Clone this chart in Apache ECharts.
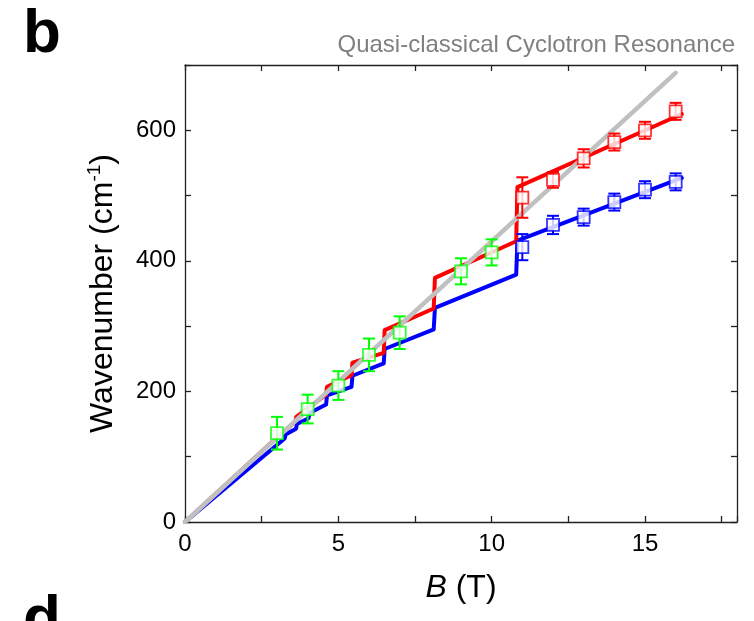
<!DOCTYPE html>
<html>
<head>
<meta charset="utf-8">
<script src="https://cdn.jsdelivr.net/npm/echarts@6/dist/echarts.min.js"></script>
<style>html,body{margin:0;padding:0;background:#fff}#c{width:754px;height:621px}</style>
</head>
<body>
<div id="c"></div>
<script>
// ---- data ----
const redLineB = [0, 2.8, 3.6, 3.63, 4.6, 4.63, 5.43, 5.46, 6.48, 6.51, 8.11, 8.15, 10.8, 10.84, 16.2];
const redLineW = [0, 121, 154, 161, 195, 207, 225, 244, 259, 294, 327, 374, 430, 513, 625];
const blueLineB = [0, 3.25, 3.28, 3.62, 3.65, 4.03, 4.06, 4.6, 4.63, 5.43, 5.46, 6.48, 6.51, 8.11, 8.15, 10.8, 10.84, 16.2];
const blueLineW = [0, 128, 134, 143, 150, 159, 167, 180, 194, 207, 224, 243, 265, 295, 328, 379, 431, 527];
const grayLineB = [0, 16];
const grayLineW = [0, 688];

const redB = [11, 12, 13, 14, 15, 16];
const redW = [497, 524, 557, 582, 600, 629];
const redErr = [31, 12, 14, 13, 13, 13];
const blueB = [11, 12, 13, 14, 15, 16];
const blueW = [421, 455, 467, 490, 509, 521];
const blueErr = [20, 14, 13, 13, 13, 13];
const greenB = [3, 4, 5, 6, 7, 9, 10];
const greenW = [136, 173, 209, 256, 290, 384, 413];
const greenErr = [25, 22, 22, 25, 25, 20, 20];

const xTicks = [0, 5, 10, 15];
const yTicks = [0, 200, 400, 600];

const FONT = '"Liberation Sans", Arial, Helvetica, sans-serif';
const zip = (a, b, c) => a.map((v, i) => c ? [v, b[i], c[i]] : [v, b[i]]);

function errBar(color) {
  return function (params, api) {
    const x = api.value(0), y = api.value(1), e = api.value(2);
    const t = api.coord([x, y + e]), b = api.coord([x, y - e]);
    const hw = 6;
    const st = { stroke: color, lineWidth: 2 };
    return { type: 'group', children: [
      { type: 'line', shape: { x1: t[0], y1: t[1], x2: b[0], y2: b[1] }, style: st },
      { type: 'line', shape: { x1: t[0] - hw, y1: t[1], x2: t[0] + hw, y2: t[1] }, style: st },
      { type: 'line', shape: { x1: b[0] - hw, y1: b[1], x2: b[0] + hw, y2: b[1] }, style: st }
    ]};
  };
}
function errSeries(B, W, E, color) {
  return [
    { type: 'custom', renderItem: errBar(color), data: zip(B, W, E), z: 5, silent: true,
      encode: { x: 0, y: 1 } },
    { type: 'scatter', data: zip(B, W), symbol: 'rect', symbolSize: 12, z: 6, silent: true,
      itemStyle: { color: '#fff', borderColor: color, borderWidth: 1.8 } }
  ];
}
function lineSeries(B, W, color, width, z) {
  return { type: 'line', data: zip(B, W), showSymbol: false, symbol: 'none', z: z, silent: true,
    lineStyle: { color: color, width: width, cap: 'round', join: 'round' } };
}

const chart = echarts.init(document.getElementById('c'), null, { renderer: 'canvas' });
const axisLine = { show: true, onZero: false, lineStyle: { color: '#222', width: 1.3 } };
const tick = { show: true, inside: true, length: 6, lineStyle: { color: '#222', width: 1.3 } };
chart.setOption({
  animation: false,
  backgroundColor: '#fff',
  textStyle: { fontFamily: FONT },
  grid: { left: 185, right: 17, top: 65, bottom: 99, show: false },
  graphic: [
    { type: 'text', left: 23, top: 4, style: { text: 'b', font: 'bold 62px ' + FONT, fill: '#000' } },
    { type: 'text', left: 23, top: 590, style: { text: 'd', font: 'bold 62px ' + FONT, fill: '#000' } },
    { type: 'text', right: 19, top: 33, style: { text: 'Quasi-classical Cyclotron Resonance', font: '24px ' + FONT, fill: '#808080' } }
  ],
  xAxis: [
    { type: 'value', min: 0, max: 18, interval: 2.5, position: 'bottom',
      axisLine: axisLine, axisTick: tick, splitLine: { show: false },
      axisLabel: { fontSize: 24, color: '#000', margin: 10, fontFamily: FONT,
        formatter: v => xTicks.indexOf(v) >= 0 ? String(v) : '' },
      name: '{i|B} (T)', nameLocation: 'middle', nameGap: 50,
      nameTextStyle: { fontSize: 32, color: '#000', fontFamily: FONT,
        rich: { i: { fontSize: 32, fontStyle: 'italic', color: '#000', fontFamily: FONT } } } },
    { type: 'value', min: 0, max: 18, interval: 2.5, position: 'top',
      axisLine: axisLine, axisTick: tick, splitLine: { show: false }, axisLabel: { show: false } }
  ],
  yAxis: [
    { type: 'value', min: 0, max: 700, interval: 100, position: 'left',
      axisLine: axisLine, axisTick: tick, splitLine: { show: false },
      axisLabel: { fontSize: 24, color: '#000', margin: 9, fontFamily: FONT,
        formatter: v => yTicks.indexOf(v) >= 0 ? String(v) : '' },
      name: '{a|Wavenumber (cm}{s|-1}{a|)}', nameLocation: 'middle', nameGap: 64, nameRotate: 90,
      nameTextStyle: { color: '#000', fontFamily: FONT,
        rich: { a: { fontSize: 32, color: '#000', fontFamily: FONT, lineHeight: 36 },
                s: { fontSize: 19, color: '#000', fontFamily: FONT, verticalAlign: 'top', lineHeight: 36, padding: [0, 0, 14, 0] } } } },
    { type: 'value', min: 0, max: 700, interval: 100, position: 'right',
      axisLine: axisLine, axisTick: tick, splitLine: { show: false }, axisLabel: { show: false } }
  ],
  series: [
    lineSeries(blueLineB, blueLineW, '#0000ff', 4, 2),
    lineSeries(redLineB, redLineW, '#ff0000', 4, 3),
    lineSeries(grayLineB, grayLineW, '#c0c0c0', 4.5, 4),
    ...errSeries(redB, redW, redErr, '#ff0000'),
    ...errSeries(blueB, blueW, blueErr, '#0000ff'),
    ...errSeries(greenB, greenW, greenErr, '#00ff00')
  ]
});
</script>
</body>
</html>
